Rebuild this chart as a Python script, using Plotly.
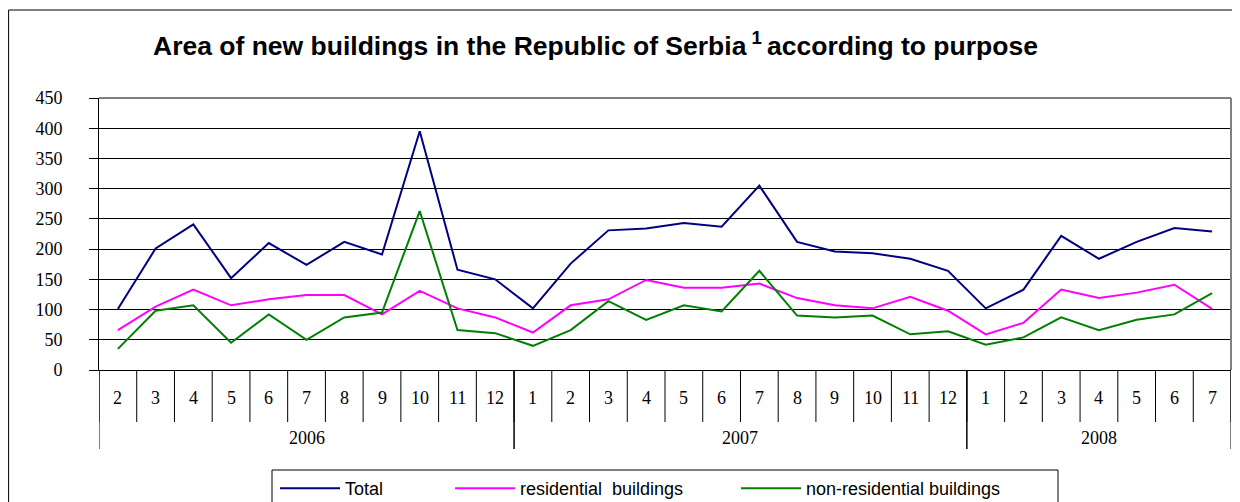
import plotly.graph_objects as go

years = ["2006", "2007", "2008"]
months_per_year = [
    [2, 3, 4, 5, 6, 7, 8, 9, 10, 11, 12],
    [1, 2, 3, 4, 5, 6, 7, 8, 9, 10, 11, 12],
    [1, 2, 3, 4, 5, 6, 7],
]
total = [101, 201, 241, 152, 210, 174, 212, 191, 395, 166, 150,
         102, 176, 231, 234, 243, 237, 305, 212, 196, 193, 184, 164,
         102, 133, 222, 184, 212, 235, 229]
residential = [66, 105, 133, 107, 117, 124, 124, 92, 131, 102, 87,
               62, 107, 117, 149, 136, 136, 143, 119, 107, 102, 121, 98,
               59, 78, 133, 119, 128, 141, 101]
non_residential = [35, 98, 107, 45, 92, 50, 87, 95, 263, 66, 61,
                   40, 66, 114, 83, 107, 97, 164, 90, 87, 90, 59, 64,
                   42, 54, 87, 66, 83, 92, 127]
series_names = ["Total", "residential  buildings", "non-residential buildings"]
series_colors = ["#000080", "#FF00FF", "#008000"]
y_ticks = [0, 50, 100, 150, 200, 250, 300, 350, 400, 450]

month_labels = [m for ms in months_per_year for m in ms]
n = len(month_labels)
xs = list(range(n))

# Page body adds an 8px offset; geometry below is in screenshot pixels.
OFF = 8
W, H = 1240 - OFF, 502 - OFF
PLOT_L, PLOT_R, PLOT_T, PLOT_B = 99, 1231, 98, 370
L, T = PLOT_L - OFF, PLOT_T - OFF
R, B = W - (PLOT_R - OFF), H - (PLOT_B - OFF)
pw, ph = PLOT_R - PLOT_L, PLOT_B - PLOT_T
def py(px):  # screenshot pixel y -> paper y
    return (PLOT_B - px) / ph
def pxp(px):  # screenshot pixel x -> paper x
    return (px - PLOT_L) / pw

legend_ids = ["legend", "legend2", "legend3"]
legend_left_px = [275, 450, 736]

fig = go.Figure()
for name, vals, col, lid in zip(series_names, [total, residential, non_residential],
                                series_colors, legend_ids):
    fig.add_trace(go.Scatter(x=xs, y=vals, mode="lines", name=name, legend=lid,
                             line=dict(color=col, width=2)))

shapes = []
annotations = []
# month dividers
for i in range(n + 1):
    shapes.append(dict(type="line", xref="x", yref="paper", x0=i - 0.5, x1=i - 0.5,
                       y0=0, y1=py(422), line=dict(color="black", width=1)))
# year dividers and labels
start = 0
for yr, ms in zip(years, months_per_year):
    end = start + len(ms)
    for b in (start, end):
        shapes.append(dict(type="line", xref="x", yref="paper", x0=b - 0.5, x1=b - 0.5,
                           y0=0, y1=py(449), line=dict(color="black", width=1)))
    annotations.append(dict(x=(start + end - 1) / 2, y=py(438), xref="x", yref="paper",
                            text=yr, showarrow=False, xanchor="center", yanchor="middle",
                            font=dict(family="Liberation Serif", size=18, color="black")))
    start = end
for i, m in enumerate(month_labels):
    annotations.append(dict(x=i, y=py(398), xref="x", yref="paper", text=str(m),
                            showarrow=False, xanchor="center", yanchor="middle",
                            font=dict(family="Liberation Serif", size=18, color="black")))
# plot frame top/right
shapes.append(dict(type="line", xref="paper", yref="paper", x0=0, x1=1, y0=1, y1=1,
                   line=dict(color="#808080", width=2)))
shapes.append(dict(type="line", xref="paper", yref="paper", x0=1, x1=1, y0=0, y1=1,
                   line=dict(color="#808080", width=2)))
# outer chart border
shapes.append(dict(type="rect", xref="paper", yref="paper", x0=pxp(8.6), x1=pxp(1245),
                   y0=py(520), y1=py(10), line=dict(color="black", width=1),
                   fillcolor="rgba(0,0,0,0)", layer="below"))
# legend box
shapes.append(dict(type="rect", xref="paper", yref="paper", x0=pxp(272), x1=pxp(1058),
                   y0=py(520), y1=py(470), line=dict(color="black", width=1),
                   fillcolor="rgba(0,0,0,0)"))

annotations.append(dict(x=pxp(595), y=py(44), xref="paper", yref="paper",
                        xanchor="center", yanchor="middle",
                        text="<b>Area of new buildings in the Republic of Serbia<sup> 1 </sup>according to purpose</b>",
                        showarrow=False,
                        font=dict(family="Liberation Sans", size=26.5, color="black")))

legend_common = dict(orientation="h", xanchor="left", yanchor="top",
                     borderwidth=0, bgcolor="rgba(0,0,0,0)",
                     font=dict(family="Liberation Sans", size=18, color="black"),
                     itemwidth=60)
layout_legends = {}
for lid, lx in zip(legend_ids, legend_left_px):
    layout_legends[lid] = dict(legend_common, x=pxp(lx), y=py(470))

fig.update_layout(
    width=W, height=H,
    margin=dict(l=L, r=R, t=T, b=B, autoexpand=False),
    paper_bgcolor="white", plot_bgcolor="white",
    showlegend=True,
    shapes=shapes,
    annotations=annotations,
    **layout_legends,
)
fig.update_xaxes(range=[-0.5, n - 0.5], showticklabels=False, ticks="",
                 showgrid=False, zeroline=False, showline=True,
                 linecolor="black", linewidth=1)
fig.update_yaxes(range=[0, 450], tickvals=y_ticks, showgrid=True, gridcolor="black",
                 gridwidth=1, zeroline=False, showline=True, linecolor="black",
                 linewidth=1, ticks="outside", ticklen=9, tickcolor="black",
                 ticklabelstandoff=23,
                 tickfont=dict(family="Liberation Serif", size=18, color="black"))

fig.write_html("out.html")
